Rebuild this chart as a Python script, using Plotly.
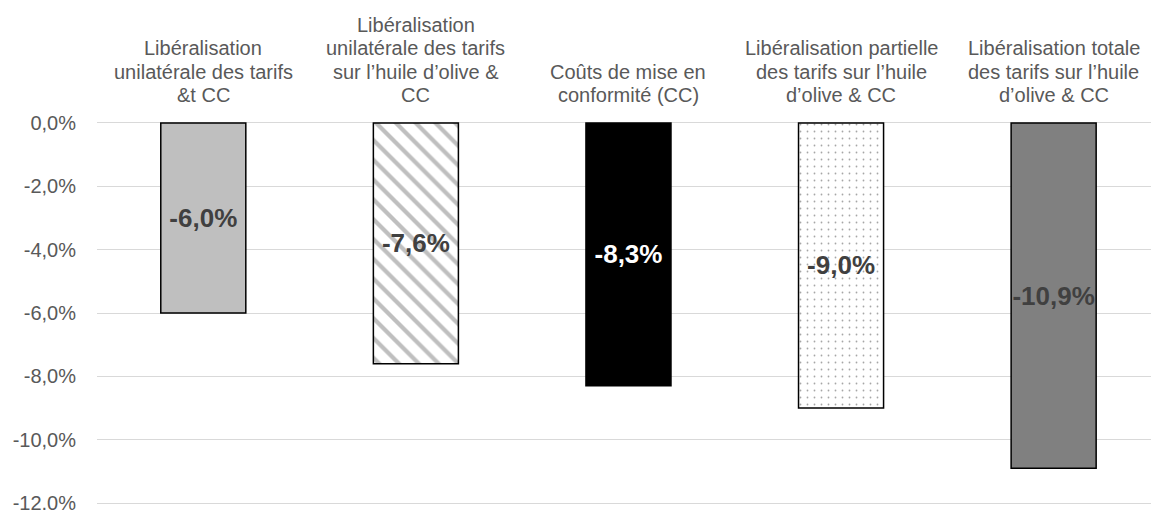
import plotly.graph_objects as go

categories = ["C1", "C2", "C3", "C4", "C5"]
category_lines = [
    ["Libéralisation", "unilatérale des tarifs", "&t CC"],
    ["Libéralisation", "unilatérale des tarifs", "sur l’huile d’olive &", "CC"],
    ["Coûts de mise en", "conformité (CC)"],
    ["Libéralisation partielle", "des tarifs sur l’huile", "d’olive & CC"],
    ["Libéralisation totale", "des tarifs sur l’huile", "d’olive & CC"],
]
values = [-6.0, -7.6, -8.3, -9.0, -10.9]
tick_values = [0, -2, -4, -6, -8, -10, -12]
tick_labels = ["0,0%", "-2,0%", "-4,0%", "-6,0%", "-8,0%", "-10,0%", "-12,0%"]

fill_colors = ["#BFBFBF", "#FFFFFF", "#000000", "#FFFFFF", "#808080"]
pattern_shapes = ["", "\\", "", ".", ""]
pattern_fg = ["#BFBFBF", "#BFBFBF", "#000000", "#A6A6A6", "#808080"]
pattern_size = [8, 14, 8, 7, 8]
pattern_solidity = [0.3, 0.3, 0.3, 0.05, 0.3]
label_colors = ["#404040", "#404040", "#FFFFFF", "#404040", "#404040"]

FONT = "Liberation Sans, Arial, sans-serif"
GRAY = "#595959"

fig = go.Figure()
for i, cat in enumerate(categories):
    marker = dict(color=fill_colors[i], line=dict(color="#000000", width=1.5))
    if pattern_shapes[i]:
        marker["pattern"] = dict(shape=pattern_shapes[i], fgcolor=pattern_fg[i],
                                 bgcolor=fill_colors[i], size=pattern_size[i],
                                 solidity=pattern_solidity[i], fillmode="replace")
    label = "<b>" + f"{values[i]:.1f}".replace(".", ",") + "%</b>"
    fig.add_trace(go.Bar(
        x=[cat],
        y=[values[i]],
        width=0.4,
        marker=marker,
        text=[label],
        texttemplate="%{text}",
        textposition="inside",
        insidetextanchor="middle",
        textangle=0,
        constraintext="none",
        textfont=dict(family=FONT, size=26, color=label_colors[i]),
        cliponaxis=False,
        showlegend=False,
        hoverinfo="skip",
    ))

# category labels above the plot, one annotation per line
line_step = 23.3
for i, lines in enumerate(category_lines):
    n = len(lines)
    for j, line in enumerate(lines):
        fig.add_annotation(
            x=categories[i], xref="x", y=1, yref="paper",
            yanchor="bottom", xanchor="center",
            text=line, showarrow=False,
            yshift=13 + (n - 1 - j) * line_step,
            font=dict(family=FONT, size=20, color=GRAY),
        )

fig.update_layout(
    width=1151, height=510,
    margin=dict(l=97, r=0, t=121, b=5, autoexpand=False),
    plot_bgcolor="#FFFFFF", paper_bgcolor="#FFFFFF",
    barmode="overlay",
    font=dict(family=FONT, color=GRAY),
)
fig.update_xaxes(
    range=[-0.5, 4.458], showticklabels=False, showgrid=False,
    zeroline=False, showline=False, ticks="", automargin=False,
)
fig.update_yaxes(
    range=[-12.06, 0.06], tickmode="array", tickvals=tick_values, ticktext=tick_labels,
    showgrid=True, gridcolor="#D9D9D9", gridwidth=1.3,
    zeroline=False, showline=False, ticks="", automargin=False,
    ticklabelstandoff=20, ticklabeloverflow="allow",
    tickfont=dict(family=FONT, size=20, color=GRAY),
)

fig.write_html("out.html")
